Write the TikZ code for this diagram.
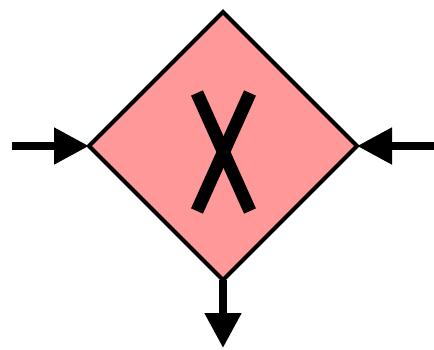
\documentclass[tikz,border=0pt]{standalone}
\usepackage{tikz}
\usetikzlibrary{shapes.geometric,arrows.meta}

\tikzset{
  gateway/.style={diamond, draw=black, line width=4pt, fill=red!40!white,
    aspect=1, inner sep=0pt, outer sep=0pt, minimum size=268pt},
  flow/.style={line width=8pt, -{Triangle[length=35pt,width=35pt]}},
  marker/.style={line width=13pt}
}

\begin{document}
\begin{tikzpicture}[x=1pt,y=1pt]
		\useasboundingbox (0,0) rectangle (434,349);
		%the gateway
		\node[gateway] (gw) at (223,203) {};
		%the cross
		\draw[marker] ([shift={(-26,53)}]gw.center) coordinate (xa) -- ([shift={(27,-65)}]gw.center) coordinate (xb);
		\draw[marker] ([shift={(27,53)}]gw.center) coordinate (xc) -- ([shift={(-26,-65)}]gw.center) coordinate (xd);
		%flows in and out
		\coordinate (inL) at (12,203);
		\coordinate (inR) at (434,203);
		\coordinate (out) at (223,1);
		\draw[flow] (inL) -- (gw.west);
		\draw[flow] (inR) -- (gw.east);
		\draw[flow] (gw.south) -- (out);
	\end{tikzpicture}
\end{document}
